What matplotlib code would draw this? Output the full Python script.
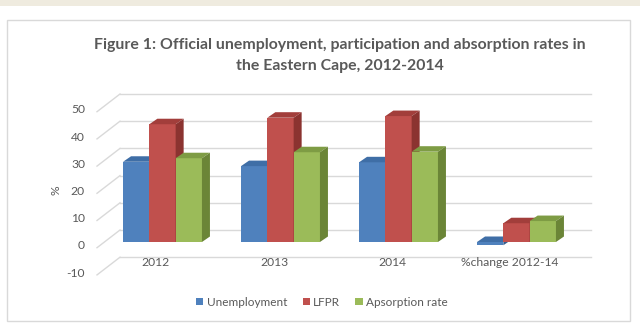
import numpy as np
import matplotlib.pyplot as plt
from matplotlib.patches import Polygon, Rectangle

categories = ['2012', '2013', '2014', '%change 2012-14']
unemployment = [29.5, 27.9, 29.3, -1.2]
lfpr = [43.3, 45.7, 46.3, 6.9]
absorption = [30.8, 33.0, 33.2, 7.7]
series_names = ['Unemployment', 'LFPR', 'Apsorption rate']
y_ticks = [50, 40, 30, 20, 10, 0, -10]

# front, top, side shades for each series
shades = [('#4f81bd', '#3f6ea6', '#345d8e'),
          ('#c0504d', '#a23e3b', '#8b3330'),
          ('#9bbb59', '#7e9c44', '#6b8537')]

plt.rcParams['font.family'] = 'Lato'

W, H = 640, 327
fig = plt.figure(figsize=(W / 100, H / 100), dpi=100)
fig.patch.set_facecolor('white')

# beige strip at top and the chart border
fig.patches.append(Rectangle((0, 1 - 6 / H), 1, 6 / H, transform=fig.transFigure,
                             facecolor='#efebdf', edgecolor='none', zorder=-2))
fig.patches.append(Rectangle((7 / W, 1 - 321 / H), 623 / W, 301 / H, transform=fig.transFigure,
                             facecolor='white', edgecolor='#d9d9d9', lw=1.0, zorder=-2))

# axes: pixel x 60..600, pixel y 80..280 ; bar zero at px 242, 2.72 px per unit
ax = fig.add_axes([60 / W, (H - 280) / H, 540 / W, 200 / H])
ax.set_zorder(2)
ax.set_xlim((60 - 162.5) / 118, (600 - 162.5) / 118)
ax.set_ylim((242 - 280) / 2.72, (242 - 80) / 2.72)
ax.axis('off')

grid_col = '#d9d9d9'
txt_col = '#595959'
back_dy = 12 / 2.72
x_back0, x_back1 = (120 - 162.5) / 118, (591 - 162.5) / 118
x_front = (97 - 162.5) / 118
for v in y_ticks:
    ax.plot([x_back0, x_back1], [v + back_dy, v + back_dy], color=grid_col, lw=1.0, zorder=1)
    ax.plot([x_front, x_back0], [v - 2.1, v + back_dy], color=grid_col, lw=1.0, zorder=1)
    ax.text((85 - 162.5) / 118, v - 1.47, str(v), ha='right', va='center',
            color=txt_col, fontsize=8.7)

ax.text((56 - 162.5) / 118, (242 - 190) / 2.72, '%', rotation=90, ha='center', va='center',
        color=txt_col, fontsize=8.7)

# pseudo 3D bars
bw = 26.3 / 118
dx, dy = 8 / 118, 5.5 / 2.72
x = np.arange(len(categories))
data = [unemployment, lfpr, absorption]
for i in x:
    for k, vals in enumerate(data):
        front, top, side = shades[k]
        x0 = i - 1.5 * bw + k * bw
        v = vals[i]
        hi = max(v, 0)
        lo = min(v, 0)
        ax.bar(x0, v, width=bw, align='edge', color=front, edgecolor='none', zorder=3)
        ax.add_patch(Polygon([(x0, hi), (x0 + bw, hi), (x0 + bw + dx, hi + dy), (x0 + dx, hi + dy)],
                             closed=True, facecolor=top, edgecolor='none', zorder=3))
        ax.add_patch(Polygon([(x0 + bw, lo), (x0 + bw + dx, lo + dy), (x0 + bw + dx, hi + dy), (x0 + bw, hi)],
                             closed=True, facecolor=side, edgecolor='none', zorder=3))

for i, c in enumerate(categories):
    ax.text(i - 0.055, (242 - 263) / 2.72, c, ha='center', va='center',
            color=txt_col, fontsize=8.7)

fig.text(340 / W, 1 - 45 / H, 'Figure 1: Official unemployment, participation and absorption rates in',
         ha='center', va='center', fontsize=11.4, fontweight='bold', color=txt_col)
fig.text(340 / W, 1 - 66 / H, 'the Eastern Cape, 2012-2014',
         ha='center', va='center', fontsize=11.4, fontweight='bold', color=txt_col)

handles = [Rectangle((0, 0), 1, 1, facecolor=s[0], edgecolor='none') for s in shades]
leg = fig.legend(handles, series_names, loc='center', bbox_to_anchor=(322 / W, 1 - 302 / H),
                 ncol=3, frameon=False, handlelength=0.6, handleheight=0.6, handletextpad=0.3,
                 columnspacing=1.3, prop={'size': 8.5})
for t in leg.get_texts():
    t.set_color(txt_col)

fig.savefig('out.png', dpi=100)
